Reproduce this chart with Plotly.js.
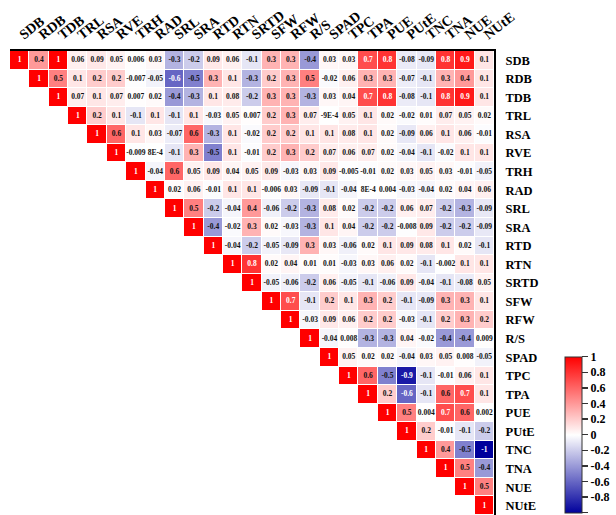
<!DOCTYPE html>
<html>
<head>
<meta charset="utf-8">
<script src="https://cdn.plot.ly/plotly-3.0.1.min.js"></script>
<style>html,body{margin:0;padding:0;background:#fff;}#chart{width:616px;height:515px;}</style>
</head>
<body>
<div id="chart"></div>
<script>
// Variable names (columns and rows)
const vars = ["SDB","RDB","TDB","TRL","RSA","RVE","TRH","RAD","SRL","SRA","RTD","RTN","SRTD","SFW","RFW","R/S","SPAD","TPC","TPA","PUE","PUtE","TNC","TNA","NUE","NUtE"];

// Upper-triangle correlation values, each row starts at its diagonal
const rSDB  = [1,0.4,1,0.06,0.09,0.05,0.006,0.03,-0.3,-0.2,0.09,0.06,-0.1,0.3,0.3,-0.4,0.03,0.03,0.7,0.8,-0.08,-0.09,0.8,0.9,0.1];
const rRDB  = [1,0.5,0.1,0.2,0.2,-0.007,-0.05,-0.6,-0.5,0.3,0.1,-0.3,0.2,0.3,0.5,-0.02,0.06,0.3,0.3,-0.07,-0.1,0.3,0.4,0.1];
const rTDB  = [1,0.07,0.1,0.07,0.007,0.02,-0.4,-0.3,0.1,0.08,-0.2,0.3,0.3,-0.3,0.03,0.04,0.7,0.8,-0.08,-0.1,0.8,0.9,0.1];
const rTRL  = [1,0.2,0.1,-0.1,0.1,-0.1,0.1,-0.03,0.05,0.007,0.2,0.3,0.07,-9e-4,0.05,0.1,0.02,-0.02,0.01,0.07,0.05,0.02];
const rRSA  = [1,0.6,0.1,0.03,-0.07,0.6,-0.3,0.1,-0.02,0.2,0.2,0.1,0.1,0.08,0.1,0.02,-0.09,0.06,0.1,0.06,-0.01];
const rRVE  = [1,-0.009,8e-4,-0.1,0.3,-0.5,0.1,-0.01,0.2,0.3,0.2,0.07,0.06,0.07,0.02,-0.04,-0.1,-0.02,0.1,0.1];
const rTRH  = [1,-0.04,0.6,0.05,0.09,0.04,0.05,0.09,-0.03,0.03,0.09,-0.005,-0.01,0.02,0.03,0.05,0.03,-0.01,-0.05];
const rRAD  = [1,0.02,0.06,-0.01,0.1,0.1,-0.006,0.03,-0.09,-0.1,-0.04,8e-4,0.004,-0.03,-0.04,0.02,0.04,0.06];
const rSRL  = [1,0.5,-0.2,-0.04,0.4,-0.06,-0.2,-0.3,0.08,0.02,-0.2,-0.2,0.06,0.07,-0.2,-0.3,-0.09];
const rSRA  = [1,-0.4,-0.02,0.3,0.02,-0.03,-0.3,0.1,0.04,-0.2,-0.2,-0.008,0.09,-0.2,-0.2,-0.09];
const rRTD  = [1,-0.04,-0.2,-0.05,-0.09,0.3,0.03,-0.06,0.02,0.1,0.09,0.08,0.1,0.02,-0.1];
const rRTN  = [1,0.8,0.02,0.04,0.01,0.01,-0.03,0.03,0.06,0.02,-0.1,-0.002,0.1,0.1];
const rSRTD = [1,-0.05,-0.06,-0.2,0.06,-0.05,-0.1,-0.06,0.09,-0.04,-0.1,-0.08,0.05];
const rSFW  = [1,0.7,-0.1,0.2,0.1,0.3,0.2,-0.1,-0.09,0.3,0.3,0.1];
const rRFW  = [1,-0.03,0.09,0.06,0.2,0.2,-0.03,-0.1,0.2,0.3,0.2];
const rRS   = [1,-0.04,0.008,-0.3,-0.3,0.04,-0.02,-0.4,-0.4,0.009];
const rSPAD = [1,0.05,0.02,0.02,-0.04,0.03,0.05,0.008,-0.05];
const rTPC  = [1,0.6,-0.5,-0.9,-0.1,-0.01,0.06,0.1];
const rTPA  = [1,0.2,-0.6,-0.1,0.6,0.7,0.1];
const rPUE  = [1,0.5,0.004,0.7,0.6,0.002];
const rPUtE = [1,0.2,-0.01,-0.1,-0.2];
const rTNC  = [1,0.4,-0.5,-1];
const rTNA  = [1,0.5,-0.4];
const rNUE  = [1,0.5];
const rNUtE = [1];

// Colorbar tick values
const cbTicks = [1,0.8,0.6,0.4,0.2,0,-0.2,-0.4,-0.6,-0.8,-1];

const rows = [rSDB,rRDB,rTDB,rTRL,rRSA,rRVE,rTRH,rRAD,rSRL,rSRA,rRTD,rRTN,rSRTD,rSFW,rRFW,rRS,rSPAD,rTPC,rTPA,rPUE,rPUtE,rTNC,rTNA,rNUE,rNUtE];
const n = vars.length;

// Build the full matrix (null in lower triangle)
const z = [];
for (let i = 0; i < n; i++) {
  const row = [];
  for (let j = 0; j < n; j++) row.push(j >= i ? rows[i][j - i] : null);
  z.push(row);
}

function fmt(v) {
  if (v !== 0 && Math.abs(v) < 0.001) return v.toExponential(0).replace('e', 'E');
  return String(v);
}

const tx = [], ty = [], tt = [], tc = [];
for (let i = 0; i < n; i++) {
  for (let j = i; j < n; j++) {
    const v = z[i][j];
    tx.push(vars[j]); ty.push(vars[i]); tt.push(fmt(v));
    tc.push((v >= 0.7 || v <= -0.55) ? '#ffffff' : '#111111');
  }
}

const serif = 'Liberation Serif, Times New Roman, serif';

const heat = {
  type: 'heatmap',
  x: vars, y: vars, z: z,
  zmin: -1, zmax: 1,
  xgap: 1, ygap: 1,
  hoverongaps: false,
  colorscale: [[0, '#00009C'], [0.5, '#ffffff'], [1, '#ff0000']],
  colorbar: {
    x: 1.147, xanchor: 'left', xref: 'paper',
    y: 0.005, yanchor: 'bottom', len: 0.336, lenmode: 'fraction',
    thickness: 17, thicknessmode: 'pixels',
    outlinewidth: 1, outlinecolor: '#333',
    tickvals: cbTicks, ticktext: cbTicks.map(String),
    ticks: 'outside', ticklen: 6, tickwidth: 1.5, tickcolor: '#333',
    tickfont: {family: serif, size: 12, color: '#000', weight: 'bold'},
    xpad: 0, ypad: 0
  }
};

const labels = {
  type: 'scatter', mode: 'text',
  x: tx, y: ty, text: tt,
  textfont: {family: serif, size: 7.5, color: tc, weight: 'bold'},
  hoverinfo: 'skip', showlegend: false
};

const layout = {
  width: 616, height: 515,
  margin: {l: 10, r: 122, t: 51, b: 0, pad: 0},
  paper_bgcolor: '#ffffff', plot_bgcolor: '#ffffff',
  showlegend: false,
  xaxis: {
    type: 'category', categoryorder: 'array', categoryarray: vars,
    side: 'top', tickangle: -38, showgrid: false, zeroline: false,
    showline: true, linecolor: '#000', linewidth: 2,
    ticks: '', ticklabelstandoff: 2,
    tickfont: {family: serif, size: 14, color: '#000', weight: 'bold'},
    range: [-0.5, n - 0.5], fixedrange: true
  },
  yaxis: {
    type: 'category', categoryorder: 'array', categoryarray: vars,
    side: 'right', showgrid: false, zeroline: false,
    showline: true, linecolor: '#000', linewidth: 2,
    ticks: '', ticklabelstandoff: 7,
    tickfont: {family: serif, size: 12.5, color: '#000', weight: 'bold'},
    range: [n - 0.5, -0.5], fixedrange: true
  }
};

Plotly.newPlot('chart', [heat, labels], layout, {displayModeBar: false, staticPlot: true});
</script>
</body>
</html>
